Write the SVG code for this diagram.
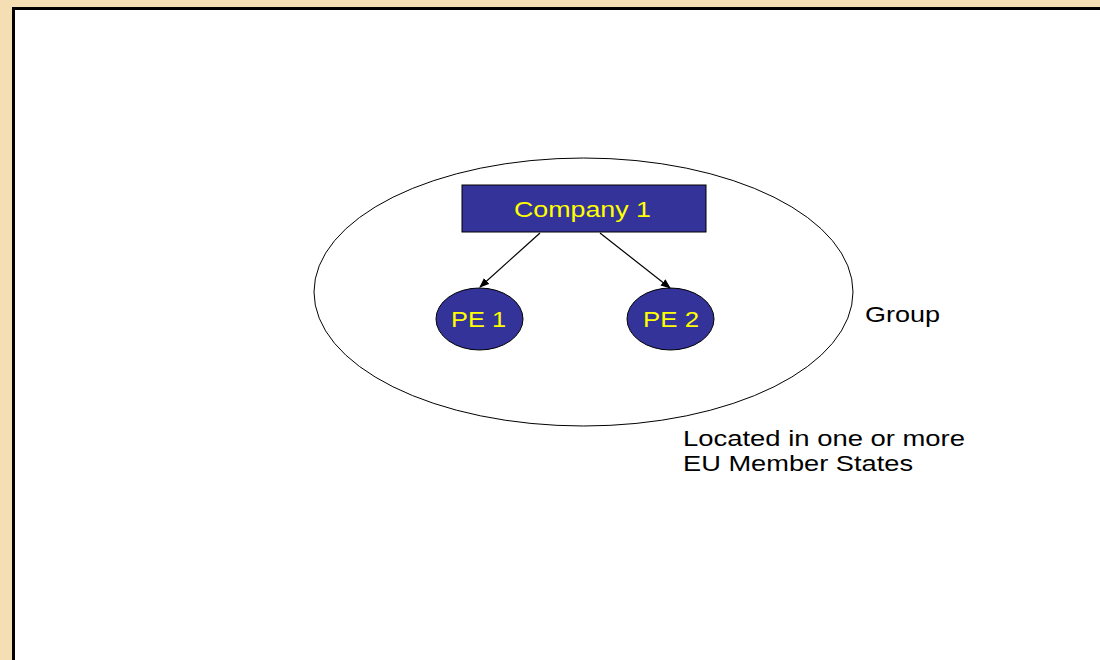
<svg xmlns="http://www.w3.org/2000/svg" width="1100" height="660" viewBox="0 0 1100 660">
<style>
.lbl{font-family:"Liberation Sans",Arial,sans-serif;font-size:22px;fill:#000}
.in{font-family:"Liberation Sans",Arial,sans-serif;font-size:22px;fill:#ffff00}
.node{fill:#333399;stroke:#000;stroke-width:1}
.conn{stroke:#000;stroke-width:1.2;fill:none;marker-end:url(#ah)}
</style>
<defs>
<marker id="ah" markerWidth="10" markerHeight="8" refX="9" refY="4" orient="auto" markerUnits="userSpaceOnUse">
<path d="M0,0 L10,4 L0,8 z" fill="#000"/>
</marker>
</defs>
<rect x="0" y="0" width="1100" height="660" fill="#f5deb3"/>
<rect x="13.5" y="8.5" width="1100" height="660" fill="#fff" stroke="#000" stroke-width="3"/>
<g id="group">
<ellipse cx="583.5" cy="292" rx="269.5" ry="134" fill="none" stroke="#000" stroke-width="1"/>
</g>
<g id="company1">
<rect class="node" x="462" y="185" width="244" height="47"/>
<text class="in" x="514" y="217" textLength="137" lengthAdjust="spacingAndGlyphs">Company 1</text>
</g>
<g id="pe1">
<ellipse class="node" cx="479.5" cy="319" rx="43.5" ry="31"/>
<text class="in" x="451" y="327" textLength="55" lengthAdjust="spacingAndGlyphs">PE 1</text>
</g>
<g id="pe2">
<ellipse class="node" cx="670.5" cy="319" rx="43.5" ry="31"/>
<text class="in" x="643" y="327" textLength="56" lengthAdjust="spacingAndGlyphs">PE 2</text>
</g>
<g id="connectors">
<line class="conn" x1="540" y1="233" x2="480" y2="287"/>
<line class="conn" x1="600" y1="233" x2="670" y2="288"/>
</g>
<text class="lbl" x="865" y="322" textLength="75" lengthAdjust="spacingAndGlyphs">Group</text>
<text class="lbl" x="683" y="446" textLength="282" lengthAdjust="spacingAndGlyphs">Located in one or more</text>
<text class="lbl" x="683" y="471" textLength="230" lengthAdjust="spacingAndGlyphs">EU Member States</text>
</svg>
